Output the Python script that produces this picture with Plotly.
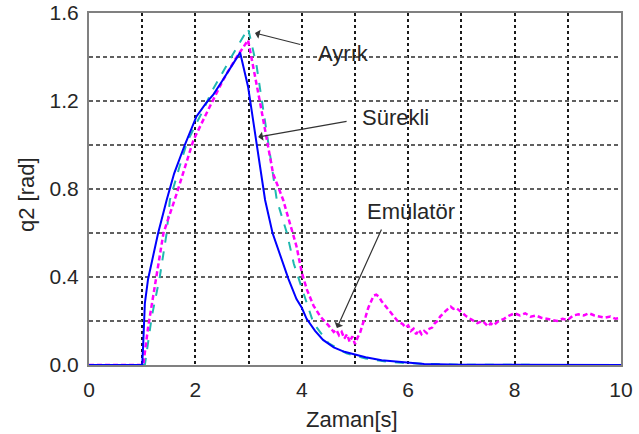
import plotly.graph_objects as go

# Sürekli (continuous) - blue solid
t_surekli = [0, 1.0, 1.02, 1.05, 1.11, 1.2, 1.30, 1.46, 1.6, 1.8, 2.02, 2.2, 2.34, 2.5, 2.65, 2.84,
             2.99, 3.15, 3.31, 3.45, 3.59, 3.75, 3.90, 4.0, 4.09, 4.25, 4.40, 4.6, 4.8, 4.97, 5.2,
             5.5, 5.91, 6.3, 7.0, 8.0, 10.0]
y_surekli = [0, 0, 0.10, 0.28, 0.39, 0.49, 0.60, 0.75, 0.87, 1.0, 1.13, 1.19, 1.23, 1.29, 1.35, 1.42,
             1.265, 1.01, 0.75, 0.60, 0.50, 0.39, 0.30, 0.26, 0.21, 0.155, 0.114, 0.08, 0.06, 0.05, 0.035,
             0.022, 0.012, 0.005, 0.001, 0, 0]

# Ayrık (discrete) - teal dashed
t_ayrik = [0, 1.0, 1.05, 1.18, 1.33, 1.46, 1.52, 1.70, 1.84, 2.0, 2.15, 2.3, 2.46, 2.7, 2.99,
           3.15, 3.37, 3.53, 3.72, 3.85, 4.0, 4.22, 4.5, 4.84, 5.2, 5.6, 6.0, 6.5, 7.0, 10.0]
y_ayrik = [0, 0, 0.0, 0.22, 0.40, 0.60, 0.75, 0.90, 1.01, 1.09, 1.16, 1.24, 1.31, 1.41, 1.53,
           1.36, 1.01, 0.75, 0.60, 0.46, 0.35, 0.19, 0.10, 0.053, 0.03, 0.015, 0.008, 0.003, 0.001, 0]

# Emülatör - magenta dashed
t_emulator = [0, 1.02, 1.11, 1.27, 1.40, 1.65, 1.96, 2.2, 2.52, 2.75, 2.99, 3.21, 3.46, 3.65, 3.90,
              4.0, 4.1, 4.22, 4.35, 4.5, 4.6, 4.65, 4.7, 4.75, 4.8, 4.85, 4.9, 4.95, 5.0, 5.05,
              5.1, 5.15, 5.2, 5.25, 5.3, 5.35, 5.4, 5.45, 5.5, 5.6, 5.7, 5.8, 5.9, 5.95, 6.0,
              6.05, 6.1, 6.15, 6.2, 6.25, 6.3, 6.35, 6.4, 6.45, 6.5, 6.55, 6.6, 6.7, 6.8, 6.85,
              6.9, 7.0, 7.1, 7.2, 7.3, 7.4, 7.5, 7.55, 7.6, 7.7, 7.8, 7.9, 8.0, 8.1, 8.2, 8.3,
              8.4, 8.5, 8.6, 8.7, 8.8, 8.9, 9.0, 9.1, 9.2, 9.3, 9.4, 9.5, 9.6, 9.7, 9.8, 9.9, 10.0]
y_emulator = [0, 0.0, 0.17, 0.40, 0.60, 0.78, 1.02, 1.14, 1.295, 1.39, 1.477, 1.20, 0.87, 0.75, 0.54,
              0.42, 0.34, 0.27, 0.22, 0.18, 0.15, 0.16, 0.135, 0.15, 0.12, 0.14, 0.105, 0.13, 0.095, 0.125,
              0.15, 0.19, 0.22, 0.26, 0.29, 0.315, 0.32, 0.31, 0.29, 0.26, 0.235, 0.20, 0.185, 0.17, 0.18,
              0.155, 0.165, 0.14, 0.16, 0.14, 0.155, 0.145, 0.165, 0.17, 0.19, 0.20, 0.22, 0.245, 0.265, 0.255,
              0.26, 0.24, 0.22, 0.205, 0.19, 0.20, 0.175, 0.19, 0.18, 0.20, 0.21, 0.225, 0.235, 0.225, 0.235, 0.22,
              0.225, 0.215, 0.21, 0.205, 0.20, 0.21, 0.205, 0.225, 0.23, 0.225, 0.235, 0.225, 0.22, 0.215, 0.22, 0.21, 0.215]

x_ticks = [0, 1, 2, 3, 4, 5, 6, 7, 8, 9, 10]
x_ticklabels = ["0", "", "2", "", "4", "", "6", "", "8", "", "10"]
y_ticks = [0, 0.2, 0.4, 0.6, 0.8, 1.0, 1.2, 1.4, 1.6]
y_ticklabels = ["0.0", "", "0.4", "", "0.8", "", "1.2", "", "1.6"]

x_title = "Zaman[s]"
y_title = "q2 [rad]"

font = "Liberation Sans, Arial, sans-serif"
txt_color = "#262626"

fig = go.Figure()
fig.add_trace(go.Scatter(x=t_ayrik, y=y_ayrik, mode="lines", name="Ayrık",
                         line=dict(color="#20b8b0", width=2, dash="dash")))
fig.add_trace(go.Scatter(x=t_emulator, y=y_emulator, mode="lines", name="Emülatör",
                         line=dict(color="#ff00ff", width=2.5, dash="5px,3px")))
fig.add_trace(go.Scatter(x=t_surekli, y=y_surekli, mode="lines", name="Sürekli",
                         line=dict(color="#0000ff", width=2)))

arrows = [
    # (tip x, tip y, tail x, tail y)
    (3.12, 1.509, 4.0, 1.455),
    (3.18, 1.036, 4.87, 1.109),
    (4.66, 0.168, 5.51, 0.623),
]
for tx, ty, ax, ay in arrows:
    fig.add_annotation(x=tx, y=ty, ax=ax, ay=ay, xref="x", yref="y", axref="x", ayref="y",
                       text="", showarrow=True, arrowhead=1, arrowsize=1.3, arrowwidth=1.2,
                       arrowcolor="#333333")

labels = [("Ayrık", 4.79, 1.418), ("Sürekli", 5.77, 1.123), ("Emülatör", 6.05, 0.700)]
for txt, lx, ly in labels:
    fig.add_annotation(x=lx, y=ly, xref="x", yref="y", text=txt, showarrow=False,
                       xanchor="center", yanchor="middle",
                       font=dict(family=font, size=22, color=txt_color))

fig.update_layout(
    width=639, height=434,
    margin=dict(l=89, r=18, t=13, b=69),
    paper_bgcolor="white", plot_bgcolor="white",
    showlegend=False,
    font=dict(family=font, size=21, color=txt_color),
)

# axis titles placed via paper coordinates derived from the plot area size
pw, ph = 639 - 89 - 18, 434 - 13 - 69
fig.add_annotation(x=(352 - 89) / pw, y=(365 - 419) / ph, xref="paper", yref="paper",
                   xanchor="center", yanchor="middle",
                   text=x_title, showarrow=False, font=dict(family=font, size=22, color=txt_color))
fig.add_annotation(x=(26 - 89) / pw, y=(365 - 195) / ph, xref="paper", yref="paper",
                   xanchor="center", yanchor="middle",
                   text=y_title, textangle=-90, showarrow=False,
                   font=dict(family=font, size=22, color=txt_color))

fig.update_xaxes(range=[0, 10], tickvals=x_ticks, ticktext=x_ticklabels,
                 showgrid=True, gridcolor="#1a1a1a", griddash="dot", gridwidth=1.5,
                 showline=True, linecolor="#808080", linewidth=2, mirror=True,
                 zeroline=False, ticks="", tickfont=dict(size=21), ticklabelstandoff=5,
                 automargin=False)
fig.update_yaxes(range=[0, 1.6], tickvals=y_ticks, ticktext=y_ticklabels,
                 showgrid=True, gridcolor="#606060", griddash="4px,3px", gridwidth=2,
                 showline=True, linecolor="#808080", linewidth=2, mirror=True,
                 zeroline=False, ticks="", tickfont=dict(size=21), ticklabelstandoff=4,
                 automargin=False)

fig.write_html("out.html")
